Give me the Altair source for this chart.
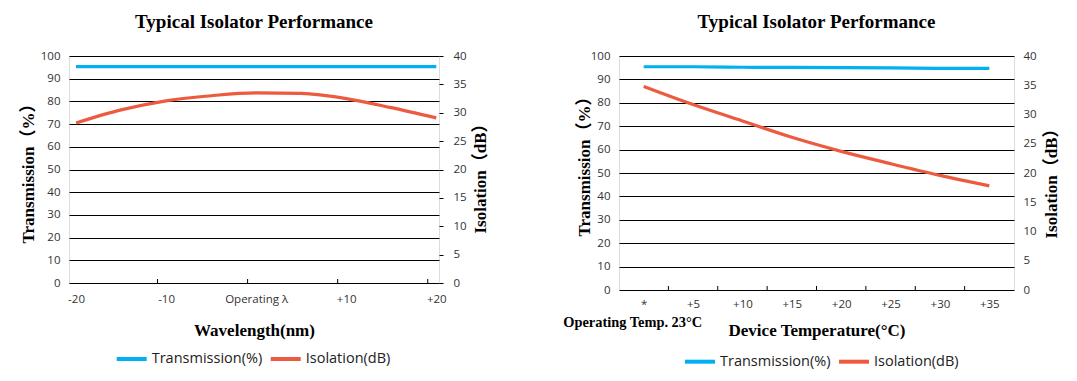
import json
import altair as alt
import pandas as pd

# ---------------- data ----------------
series_names = ["Transmission(%)", "Isolation(dB)"]
series_colors = ["#00B0F0", "#EC5B3F"]

# left panel: wavelength sweep
wl_x = [-20, -15, -10, -5, 0, 5, 10, 15, 20]
wl_trans = [95.3, 95.3, 95.3, 95.3, 95.3, 95.3, 95.3, 95.3, 95.3]
wl_iso = [28.2, 30.5, 32.1, 33.0, 33.5, 33.4, 32.5, 30.9, 29.1]
wl_label_values = [-20, -10, 0, 10, 20]
wl_labels = ["-20", "-10", "Operating λ", "+10", "+20"]

# right panel: device temperature sweep
temp_x = [0, 5, 10, 15, 20, 25, 30, 35]
temp_labels = ["*", "+5", "+10", "+15", "+20", "+25", "+30", "+35"]
temp_trans = [95.4, 95.4, 95.2, 95.1, 95.0, 94.9, 94.7, 94.7]
temp_iso = [34.8, 31.7, 28.9, 26.1, 23.7, 21.6, 19.6, 17.8]

trans_ticks = list(range(0, 101, 10))
iso_ticks = list(range(0, 41, 5))

chart_title = "Typical Isolator Performance"
left_xtitle = "Wavelength(nm)"
right_xtitle = "Device Temperature(°C)"
ytitle_left = "Transmission（%）"
ytitle_right = "Isolation（dB）"
note_text = "Operating Temp. 23°C"

SERIF = "Liberation Serif, Noto Sans CJK SC"
SANS = "Open Sans"
GRID = "#000000"


def long_df(xs, trans, iso):
    rows = []
    for x, t in zip(xs, trans):
        rows.append({"x": x, "value": t, "series": series_names[0]})
    for x, v in zip(xs, iso):
        rows.append({"x": x, "value": v, "series": series_names[1]})
    return pd.DataFrame(rows)


def label_expr(values, labels):
    expr = "''"
    for v, l in reversed(list(zip(values, labels))):
        expr = f"datum.value == {v} ? {json.dumps(l, ensure_ascii=False)} : ({expr})"
    return expr


def panel(df, xdom, xvals, xlabels, tick_pos, W, H, xtitle, title_offset,
          xtitle_y, xlab_pad, lt_x, lt_y, rt_x, rt_y, leg_x, leg_y,
          right_ticks, extra=None):
    color = alt.Color(
        "series:N",
        scale=alt.Scale(domain=series_names, range=series_colors),
        legend=alt.Legend(
            orient="none", legendX=leg_x, legendY=leg_y, direction="horizontal",
            title=None, symbolType="stroke", symbolSize=900, symbolStrokeWidth=4,
            labelFont=SANS, labelFontSize=14.5, labelColor="#222", labelOffset=3,
            columnPadding=0, padding=0,
        ),
    )
    xaxis = alt.Axis(
        values=xvals, labelExpr=label_expr(xvals, xlabels), ticks=False,
        domain=False, grid=False, labelPadding=xlab_pad, labelFont=SANS,
        labelFontSize=11.5, labelColor="#333", labelFlush=False,
        title=xtitle, titleFont=SERIF, titleFontSize=17, titleFontWeight="bold",
        titleColor="#000", titleY=xtitle_y, titleBaseline="middle",
    )
    xscale = alt.Scale(domain=xdom, nice=False, zero=False)
    xenc = alt.X("x:Q", scale=xscale, axis=xaxis)
    base = alt.Chart(df)
    trans = base.transform_filter(alt.datum.series == series_names[0]).mark_line(
        strokeWidth=3.2, interpolate="monotone"
    ).encode(
        x=xenc,
        y=alt.Y(
            "value:Q",
            scale=alt.Scale(domain=[0, 100], nice=False),
            axis=alt.Axis(
                orient="left", values=trans_ticks, grid=True, gridColor=GRID,
                gridOpacity=1, ticks=False, domain=False, labelPadding=9,
                labelFont=SANS, labelFontSize=11.5, labelColor="#333",
                title=ytitle_left, titleFont=SERIF, titleFontSize=17,
                titleFontWeight="bold", titleColor="#000", titleAngle=270,
                titleX=lt_x, titleY=lt_y, titleAlign="center", titleBaseline="middle",
            ),
        ),
        color=color,
    )
    iso = base.transform_filter(alt.datum.series == series_names[1]).mark_line(
        strokeWidth=3.2, interpolate="monotone"
    ).encode(
        x=xenc,
        y=alt.Y(
            "value:Q",
            scale=alt.Scale(domain=[0, 40], nice=False),
            axis=alt.Axis(
                orient="right", values=iso_ticks, grid=False,
                ticks=right_ticks, tickSize=4, tickColor=GRID, domain=False,
                labelPadding=9 if not right_ticks else 10,
                labelFont=SANS, labelFontSize=11.5, labelColor="#333",
                title=ytitle_right, titleFont=SERIF, titleFontSize=17,
                titleFontWeight="bold", titleColor="#000", titleAngle=270,
                titleX=rt_x, titleY=rt_y, titleAlign="center", titleBaseline="middle",
            ),
        ),
        color=color,
    )
    ticks = alt.Chart(pd.DataFrame({"x": tick_pos})).mark_rule(
        color=GRID, strokeWidth=1
    ).encode(x=xenc, y=alt.value(H), y2=alt.value(H - 4))
    layers = [trans, iso, ticks]
    if extra is not None:
        layers.append(extra.encode(x=xenc))
    return alt.layer(*layers).resolve_scale(y="independent").properties(
        width=W, height=H,
        title=alt.TitleParams(
            text=chart_title, font=SERIF, fontSize=19, fontWeight="bold",
            anchor="middle", offset=title_offset, color="#000",
        ),
    )


left_df = long_df(wl_x, wl_trans, wl_iso)
left_tick_pos = [v - 0.95 for v in wl_label_values[1:]]
left = panel(
    left_df, [-20.78, 20.3], wl_label_values, wl_labels, left_tick_pos,
    370, 227, left_xtitle, 17.6, 47.4, 10, -40.3, 113, 41.3, 118, 45.7, 286, True,
)

right_df = long_df(temp_x, temp_trans, temp_iso)
right_tick_pos = [v + 2.5 for v in temp_x[:-1]]
note = alt.Chart(pd.DataFrame({"x": [temp_x[0]], "txt": [note_text]})).mark_text(
    font=SERIF, fontSize=14.4, fontWeight="bold", align="center", baseline="middle",
    dx=-11, color="#000",
).encode(y=alt.value(267), text="txt:N")
right = panel(
    right_df, [-2.5, 37.5], temp_x, temp_labels, right_tick_pos,
    395, 234, right_xtitle, 17.6, 40, 8, -35, 106, 37, 123, 64, 288.7, False,
    extra=note,
)

chart = alt.concat(left, right, columns=2, spacing=73).resolve_scale(
    color="independent"
).resolve_legend(color="independent").properties(
    padding={"left": 11, "top": 4, "right": 5, "bottom": 5}
).configure_view(stroke=GRID, strokeWidth=1).configure(background="white")

chart.save("out.html", embed_options={"renderer": "svg", "actions": False})
